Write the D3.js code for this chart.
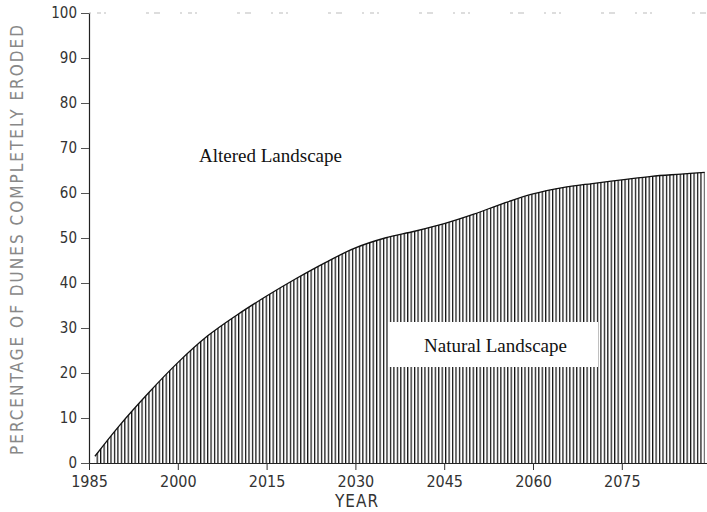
<!DOCTYPE html>
<html>
<head>
<meta charset="utf-8">
<script src="https://cdn.jsdelivr.net/npm/d3@7"></script>
<style>
  body { margin: 0; background: #fff; }
  svg { display: block; }
</style>
</head>
<body>
<script>
// values
const years = [1986, 1990, 1995, 2000, 2005, 2010, 2015, 2020, 2025, 2030, 2035, 2040,
  2045, 2050, 2055, 2060, 2065, 2070, 2075, 2080, 2085, 2089];
const percentEroded = [1.5, 8.1, 15.5, 22.3, 28.2, 32.9, 37.1, 41.0, 44.6, 47.8, 50.0, 51.5,
  53.2, 55.3, 57.7, 59.8, 61.2, 62.1, 62.9, 63.7, 64.2, 64.6];
const xTicks = [1985, 2000, 2015, 2030, 2045, 2060, 2075];
const yTicks = [0, 10, 20, 30, 40, 50, 60, 70, 80, 90, 100];

const data = years.map((yr, i) => ({ year: yr, value: percentEroded[i] }));

const width = 707, height = 512;
const svg = d3.select("body").append("svg")
  .attr("width", width)
  .attr("height", height);

const x = d3.scaleLinear().domain([1985, 2090]).range([89, 710.6]);
const y = d3.scaleLinear().domain([0, 100]).range([463, 13]);

// vertical hatching used for the natural landscape area
const pattern = svg.append("defs").append("pattern")
  .attr("id", "hatch")
  .attr("patternUnits", "userSpaceOnUse")
  .attr("width", 3.45)
  .attr("height", 10);
pattern.append("line")
  .attr("x1", 0.6).attr("x2", 0.6)
  .attr("y1", 0).attr("y2", 10)
  .attr("stroke", "#111")
  .attr("stroke-width", 1.3);

const area = d3.area()
  .x((d) => x(d.year))
  .y0(y(0))
  .y1((d) => y(d.value))
  .curve(d3.curveCatmullRom.alpha(0.5));

svg.append("path")
  .datum(data)
  .attr("d", area)
  .attr("fill", "url(#hatch)");

svg.append("path")
  .datum(data)
  .attr("d", area.lineY1())
  .attr("fill", "none")
  .attr("stroke", "#111")
  .attr("stroke-width", 1.3);

// faint broken frame line at 100
svg.append("line")
  .attr("x1", x(1985)).attr("x2", width)
  .attr("y1", y(100)).attr("y2", y(100))
  .attr("stroke", "#bbb")
  .attr("stroke-width", 1)
  .attr("stroke-dasharray", "2,6,4,3,2,40,3,5,6,20");

const axisFont = "'DejaVu Sans Condensed', 'DejaVu Sans', sans-serif";

// y axis
const gy = svg.append("g")
  .attr("transform", `translate(${x(1985)},0)`)
  .call(d3.axisLeft(y).tickValues(yTicks).tickSize(8).tickSizeOuter(0).tickPadding(4));
gy.select(".domain").attr("stroke", "#222").attr("stroke-width", 1.2);
gy.selectAll(".tick line").attr("stroke", "#555");
gy.selectAll(".tick text")
  .attr("font-family", axisFont)
  .attr("font-size", 15)
  .attr("fill", "#333");

// x axis
const gx = svg.append("g")
  .attr("transform", `translate(0,${y(0)})`)
  .call(d3.axisBottom(x).tickValues(xTicks).tickFormat(d3.format("d"))
    .tickSize(7).tickSizeOuter(0).tickPadding(6));
gx.select(".domain").attr("stroke", "#222").attr("stroke-width", 1.2);
gx.selectAll(".tick line").attr("stroke", "#333");
gx.selectAll(".tick text")
  .attr("font-family", axisFont)
  .attr("font-size", 16)
  .attr("fill", "#333");

svg.append("text")
  .attr("x", 357)
  .attr("y", 507)
  .attr("text-anchor", "middle")
  .attr("font-family", axisFont)
  .attr("font-size", 17)
  .attr("letter-spacing", 1)
  .attr("fill", "#333")
  .text("YEAR");

svg.append("text")
  .attr("transform", "translate(23,455) rotate(-90)")
  .attr("textLength", 430)
  .attr("lengthAdjust", "spacing")
  .attr("font-family", axisFont)
  .attr("font-size", 17)
  .attr("fill", "#888")
  .text("PERCENTAGE OF DUNES COMPLETELY ERODED");

// region labels
const serif = "'Liberation Serif', 'Times New Roman', serif";
svg.append("text")
  .attr("x", 199)
  .attr("y", 162)
  .attr("font-family", serif)
  .attr("font-size", 19)
  .attr("fill", "#111")
  .text("Altered Landscape");

svg.append("rect")
  .attr("x", 388).attr("y", 322)
  .attr("width", 210).attr("height", 45)
  .attr("fill", "#fff");

svg.append("text")
  .attr("x", 424)
  .attr("y", 352)
  .attr("font-family", serif)
  .attr("font-size", 19)
  .attr("fill", "#111")
  .text("Natural Landscape");
</script>
</body>
</html>
